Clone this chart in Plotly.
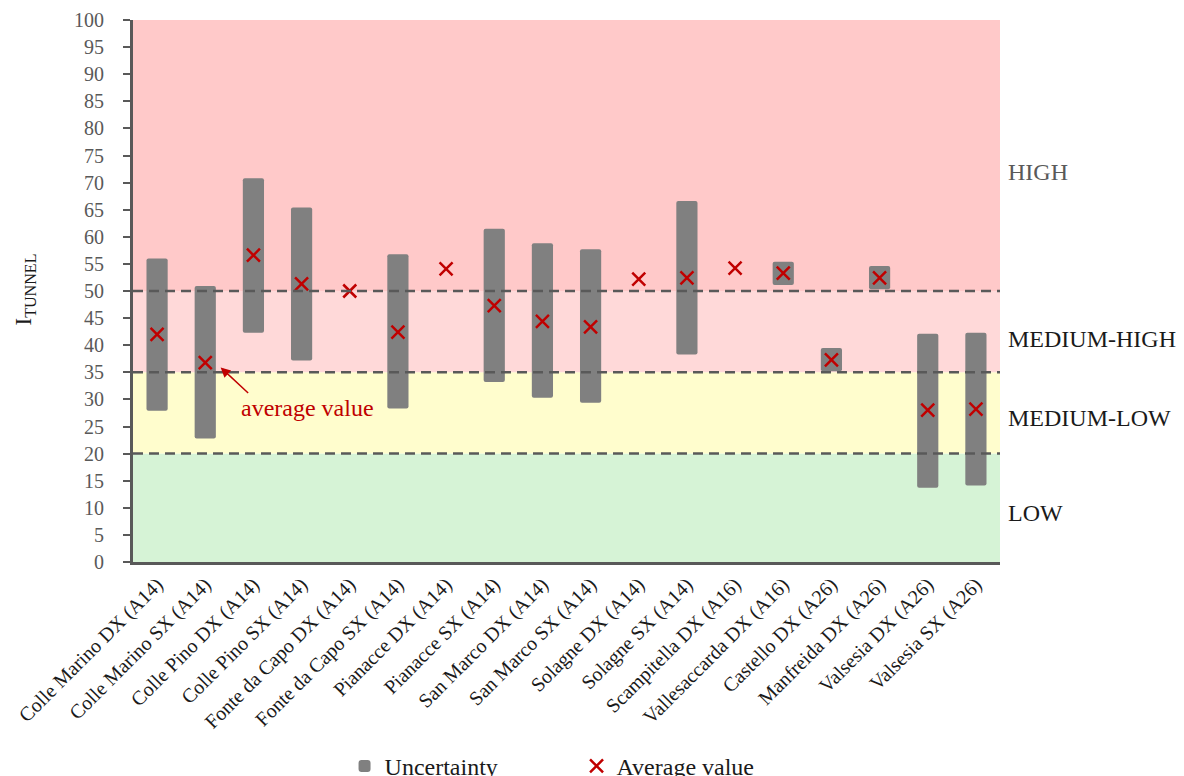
import plotly.graph_objects as go

categories = [
    "Colle Marino DX (A14)", "Colle Marino SX (A14)", "Colle Pino DX (A14)",
    "Colle Pino SX (A14)", "Fonte da Capo DX (A14)", "Fonte da Capo SX (A14)",
    "Pianacce DX (A14)", "Pianacce SX (A14)", "San Marco DX (A14)",
    "San Marco SX (A14)", "Solagne DX (A14)", "Solagne SX (A14)",
    "Scampitella DX (A16)", "Vallesaccarda DX (A16)", "Castello DX (A26)",
    "Manfreida DX (A26)", "Valsesia DX (A26)", "Valsesia SX (A26)",
]
average = [42.0, 36.8, 56.6, 51.3, 50.0, 42.4, 54.1, 47.3, 44.4, 43.4,
           52.2, 52.4, 54.2, 53.3, 37.3, 52.4, 28.0, 28.2]
unc_low = [27.9, 22.8, 42.3, 37.2, None, 28.3, None, 33.2, 30.3, 29.4,
           None, 38.3, None, 51.1, 35.2, 50.3, 13.7, 14.1]
unc_high = [56.0, 50.9, 70.8, 65.4, None, 56.8, None, 61.5, 58.8, 57.7,
            None, 66.6, None, 55.4, 39.5, 54.6, 42.1, 42.3]

band_edges = [0, 20, 35, 50, 100]
band_colors = ["#d6f3d6", "#fffdcd", "#ffd9d9", "#ffc9c9"]
band_labels = ["LOW", "MEDIUM-LOW", "MEDIUM-HIGH", "HIGH"]
band_label_y = [9.1, 26.5, 41.1, 71.9]
band_label_colors = ["#1a1a1a", "#1a1a1a", "#1a1a1a", "#595959"]
threshold_lines = [20, 35, 50]

FONT = "Liberation Serif, Times New Roman, serif"
GRAY = "#595959"
RED = "#c00000"

spans = [None if (lo is None or hi is None) else hi - lo for lo, hi in zip(unc_low, unc_high)]

fig = go.Figure()
fig.add_trace(go.Bar(
    x=categories, y=spans, base=unc_low, width=0.44,
    marker=dict(color="#808080", line=dict(width=0), cornerradius=2),
    name="Uncertainty",
))
fig.add_trace(go.Scatter(
    x=categories, y=average, mode="markers", name="Average value",
    marker=dict(symbol="x-thin", size=13, line=dict(color=RED, width=2.5), color=RED),
))

shapes = []
for i in range(len(band_colors)):
    shapes.append(dict(type="rect", xref="paper", yref="y", x0=0, x1=1,
                       y0=band_edges[i], y1=band_edges[i + 1],
                       fillcolor=band_colors[i], line=dict(width=0), layer="below"))
for t in threshold_lines:
    shapes.append(dict(type="line", xref="paper", yref="y", x0=0, x1=1, y0=t, y1=t,
                       line=dict(color=GRAY, width=2.5, dash="10px,6px"), layer="above"))

annotations = []
for lab, yy, c in zip(band_labels, band_label_y, band_label_colors):
    annotations.append(dict(text=lab, xref="paper", yref="y", x=1.007, y=yy,
                            xanchor="left", yanchor="middle", showarrow=False,
                            font=dict(family=FONT, size=24, color=c)))
annotations.append(dict(text="I<sub>TUNNEL</sub>", xref="paper", yref="paper",
                        x=-0.125, y=0.502, textangle=-90, showarrow=False,
                        xanchor="center", yanchor="middle",
                        font=dict(family=FONT, size=23, color="#1a1a1a")))
annotations.append(dict(text="", x=1.32, y=35.9, xref="x", yref="y",
                        showarrow=True, ax=29, ay=27, arrowhead=2, arrowsize=1.3,
                        arrowwidth=1.5, arrowcolor=RED))
annotations.append(dict(text="average value", x=3.13, y=28.35, xref="x", yref="y",
                        showarrow=False, xanchor="center", yanchor="middle",
                        font=dict(family=FONT, size=24, color=RED)))

fig.update_layout(
    width=1176, height=768,
    margin=dict(l=125, r=184, t=12, b=213.5, autoexpand=False),
    paper_bgcolor="white", plot_bgcolor="white",
    font=dict(family=FONT, color="#1a1a1a"),
    shapes=shapes, annotations=annotations,
    showlegend=True,
    legend=dict(orientation="h", x=0.244, xanchor="left", y=-0.377, yanchor="middle",
                font=dict(family=FONT, size=24, color="#1a1a1a"),
                entrywidth=187, entrywidthmode="pixels", bgcolor="rgba(0,0,0,0)"),
    bargap=0.56,
)
fig.update_xaxes(
    type="category", showline=True, linewidth=3, linecolor=GRAY, ticks="",
    tickangle=-45, tickfont=dict(family=FONT, size=20, color="#1a1a1a"),
    showgrid=False, zeroline=False, range=[-0.5, len(categories) - 0.5],
)
fig.update_yaxes(
    range=[0, 100], dtick=5, tick0=0, showline=True, linewidth=3, linecolor=GRAY,
    ticks="outside", ticklen=7, tickwidth=2, tickcolor=GRAY,
    tickfont=dict(family=FONT, size=20, color=GRAY), ticklabelstandoff=15,
    showgrid=False, zeroline=False,
)

fig.write_html("out.html")
